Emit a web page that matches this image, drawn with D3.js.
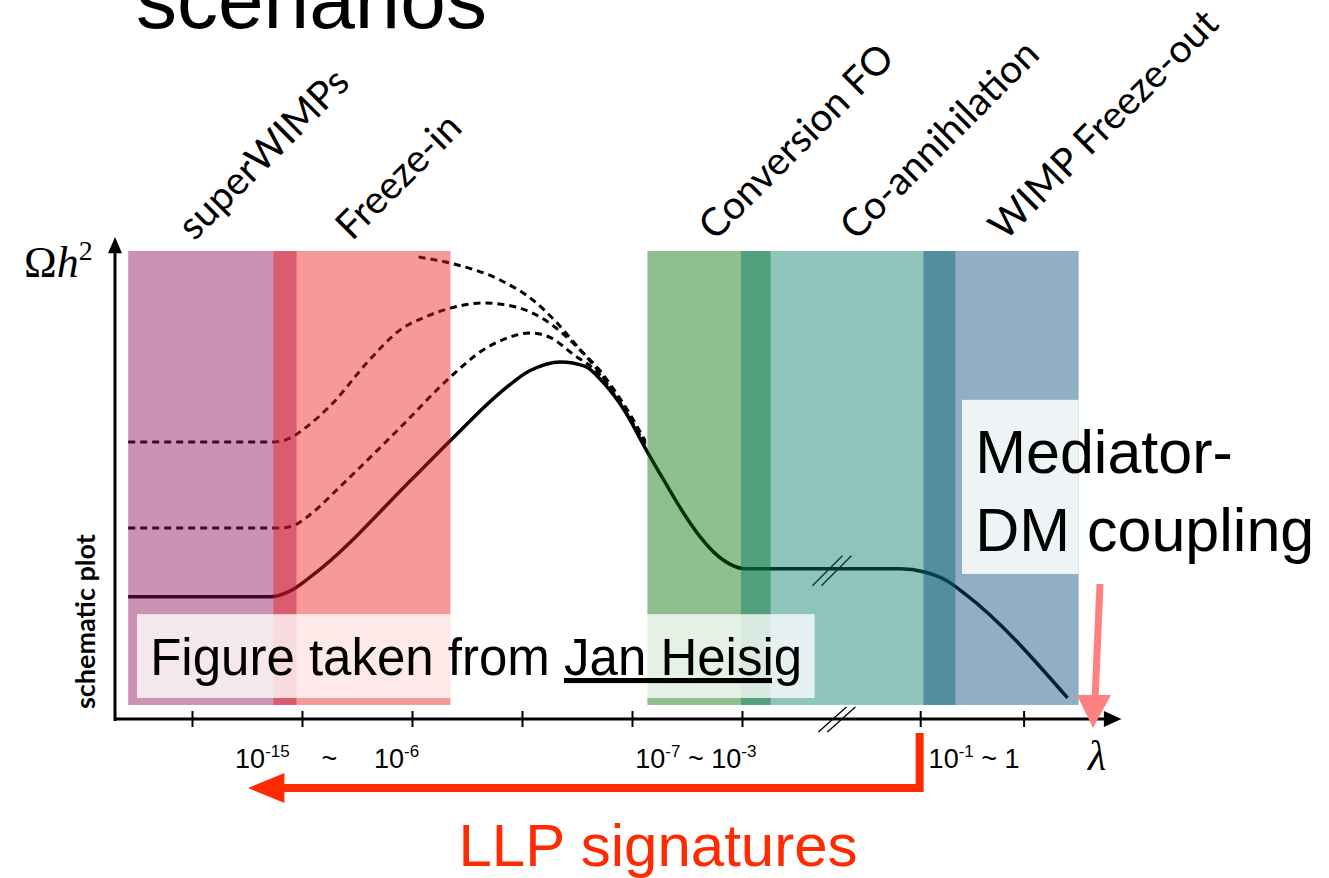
<!DOCTYPE html>
<html><head><meta charset="utf-8">
<script src="https://cdn.jsdelivr.net/npm/d3@7"></script>
<style>body{margin:0;background:#fff}svg{display:block}</style>
</head><body>
<svg id="c" width="1329" height="878"></svg>
<script>
// ---------- data (schematic) ----------
const bandNames = ["superWIMPs", "Freeze-in", "Conversion FO", "Co-annihilation", "WIMP Freeze-out"];
const bandFrom  = [0.42, 1.74, 5.14, 5.99, 7.65];
const bandTo    = [1.95, 3.35, 6.26, 7.94, 9.06];
const bandLow = 0.3, bandHigh = 10;

const tickValues = [1, 2, 3, 4, 5, 6, 7.62, 8.56];
const breakAt = 6.84;

const tickLabelParts = [
  [["10", 0], ["-15", 1]],
  [["~", 0]],
  [["10", 0], ["-6", 1]],
  [["10", 0], ["-7", 1], [" ~ ", 0], ["10", 0], ["-3", 1]],
  [["10", 0], ["-1", 1], [" ~ 1", 0]]
];
const tickLabelAt = [1.64, 2.25, 2.86, 5.58, 8.11];

const solidCurve = [[0.42,2.61],[1.71,2.61],[1.88,2.72],[2.1,3.08],[3.01,5.15],[3.37,6.0],
  [3.8,6.97],[4.07,7.44],[4.35,7.63],[4.57,7.54],[4.75,7.16],[4.94,6.56],[5.12,5.79],[5.3,5.06],
  [5.48,4.36],[5.62,3.89],[5.75,3.55],[5.89,3.31],[6.03,3.21],[6.44,3.21],[7.44,3.21],[7.66,3.14],
  [7.85,2.97],[8.03,2.67],[8.96,0.45]];
const dashedHigh = [[0.42,5.92],[1.75,5.92],[1.89,6.0],[2.03,6.22],[2.28,6.75],[2.59,7.61],[2.89,8.31],
  [3.14,8.61],[3.35,8.78],[3.65,8.89],[3.95,8.8],[4.25,8.46],[4.5,7.95],[4.71,7.39],[4.85,6.94],
  [4.98,6.47],[5.12,5.9]];
const dashedLow = [[0.42,4.08],[1.8,4.08],[1.94,4.15],[2.07,4.36],[2.37,5.02],[2.89,6.22],[3.35,7.31],
  [3.65,7.89],[3.89,8.16],[4.07,8.25],[4.25,8.16],[4.46,7.8],[4.71,7.35],[4.85,6.9],[4.98,6.43],[5.12,5.86]];
const dashedTop = [[3.06,9.87],[3.35,9.74],[3.8,9.38],[4.1,8.95],[4.32,8.46],[4.53,7.89],[4.71,7.44],
  [4.85,6.99],[4.98,6.52],[5.12,5.94]];

// ---------- styles / layout ----------
const bandFill = ["rgb(144,11,87)", "rgb(233,31,27)", "rgb(7,113,0)", "rgb(7,124,109)", "rgb(9,76,124)"];
const labelShift = [-18, -10, 6, 8, 4]; // px nudges of rotated labels
const bandOpacity = 0.45;
const red = "#ff2a00", salmon = "#ff8080";
const gill = "'Lato', 'Open Sans', sans-serif";
const helv = "'Liberation Sans', Arial, sans-serif";

// ---------- scales ----------
const svg = d3.select("#c");
const x = d3.scaleLinear().domain([0, 10]).range([82, 1182]);
const y = d3.scaleLinear().domain([0, 10]).range([719, 251]);

// title (cut off at top, as in the original slide)
svg.append("text").attr("x", 136).attr("y", 28)
  .attr("font-family", helv).attr("font-size", 82).attr("font-weight", 300)
  .attr("fill", "#000").text("scenarios");

// curves (drawn under translucent bands)
const line = d3.line().x(d => x(d[0])).y(d => y(d[1])).curve(d3.curveMonotoneX);
const gCurves = svg.append("g");
[dashedHigh, dashedLow, dashedTop].forEach(s => {
  gCurves.append("path").attr("d", line(s)).attr("fill", "none")
    .attr("stroke", "#000").attr("stroke-width", 3).attr("stroke-dasharray", "7,5");
});
gCurves.append("path").attr("d", line(solidCurve)).attr("fill", "none")
  .attr("stroke", "#000").attr("stroke-width", 3.5);

// break marks on the curve
const breakV = 3.21;
[0, 9].forEach(off => {
  gCurves.append("line")
    .attr("x1", x(breakAt) - 22 + off).attr("y1", y(breakV) + 17)
    .attr("x2", x(breakAt) + 8 + off).attr("y2", y(breakV) - 13)
    .attr("stroke", "#000").attr("stroke-width", 1.3);
});

// bands
svg.append("g").selectAll("rect").data(bandNames).join("rect")
  .attr("x", (d, i) => x(bandFrom[i]))
  .attr("width", (d, i) => x(bandTo[i]) - x(bandFrom[i]))
  .attr("y", y(bandHigh)).attr("height", y(bandLow) - y(bandHigh))
  .attr("fill", (d, i) => bandFill[i]).attr("fill-opacity", bandOpacity);

// band labels rotated
svg.append("g").selectAll("text").data(bandNames).join("text")
  .attr("transform", (d, i) => `translate(${x((bandFrom[i] + bandTo[i]) / 2) + labelShift[i]},${y(10.2)}) rotate(-45)`)
  .attr("font-family", gill).attr("font-size", 39).attr("fill", "#000")
  .text(d => d);

// white boxes
svg.append("rect").attr("x", x(0.5)).attr("y", y(2.24))
  .attr("width", x(6.66) - x(0.5)).attr("height", y(0.45) - y(2.24))
  .attr("fill", "#fff").attr("fill-opacity", 0.78);
svg.append("rect").attr("x", x(8.0)).attr("y", y(6.82))
  .attr("width", x(9.06) - x(8.0)).attr("height", y(3.1) - y(6.82))
  .attr("fill", "#fff").attr("fill-opacity", 0.85);

// figure credit
const cred = svg.append("text").attr("x", x(0.62)).attr("y", y(0.94))
  .attr("font-family", helv).attr("font-size", 51).attr("font-weight", 300).attr("fill", "#000");
cred.append("tspan").text("Figure taken from ");
cred.append("tspan").attr("text-decoration", "underline").text("Jan Heisig");

// mediator text
const med = svg.append("text").attr("font-family", helv).attr("font-size", 61).attr("font-weight", 300).attr("fill", "#000");
med.append("tspan").attr("x", x(8.12)).attr("y", y(5.25)).text("Mediator-");
med.append("tspan").attr("x", x(8.12)).attr("y", y(3.6)).text("DM coupling");

// axes
const gAx = svg.append("g");
gAx.append("line").attr("x1", x(0.3)).attr("x2", x(9.3)).attr("y1", y(0)).attr("y2", y(0))
  .attr("stroke", "#000").attr("stroke-width", 3);
gAx.append("path").attr("d", `M${x(9.45)},${y(0)} L${x(9.29)},${y(0) - 8} L${x(9.29)},${y(0) + 8} Z`).attr("fill", "#000");
gAx.append("line").attr("x1", x(0.3)).attr("x2", x(0.3)).attr("y1", y(0) + 2).attr("y2", y(10.15))
  .attr("stroke", "#000").attr("stroke-width", 3);
gAx.append("path").attr("d", `M${x(0.3)},${y(10.3)} L${x(0.3) - 7},${y(9.95)} L${x(0.3) + 7},${y(9.95)} Z`).attr("fill", "#000");

const axis = d3.axisBottom(x).tickValues(tickValues).tickFormat("").tickSize(8);
const gT = svg.append("g").attr("transform", `translate(0,${y(0)})`).call(axis);
gT.select(".domain").remove();
gT.selectAll(".tick line").attr("y1", -8).attr("y2", 8).attr("stroke", "#000").attr("stroke-width", 2);

// axis break
[0, 9].forEach(off => {
  svg.append("line")
    .attr("x1", x(breakAt) - 16 + off).attr("y1", y(0) + 13)
    .attr("x2", x(breakAt) + 12 + off).attr("y2", y(0) - 12)
    .attr("stroke", "#000").attr("stroke-width", 1.3);
});

// tick labels
tickLabelParts.forEach((parts, i) => {
  const t = svg.append("text").attr("x", x(tickLabelAt[i])).attr("y", 768)
    .attr("text-anchor", "middle").attr("font-family", helv).attr("font-size", 27).attr("fill", "#000");
  let sup = false;
  parts.forEach(([s, isSup]) => {
    const sp = t.append("tspan").text(s).attr("xml:space", "preserve");
    if (isSup && !sup) { sp.attr("font-size", 17).attr("dy", -11); sup = true; }
    else if (!isSup && sup) { sp.attr("dy", 11); sup = false; }
    else if (isSup) sp.attr("font-size", 17);
  });
});

// axis titles
const yl = svg.append("text").attr("x", 24).attr("y", 277)
  .attr("font-family", "'Liberation Serif', 'DejaVu Serif', serif").attr("font-size", 44).attr("fill", "#000");
yl.append("tspan").text("Ω");
yl.append("tspan").attr("font-style", "italic").text("h");
yl.append("tspan").attr("font-size", 28).attr("dy", -17).text("2");

svg.append("text").attr("x", 1097).attr("y", 770).attr("text-anchor", "middle")
  .attr("font-family", "'Liberation Serif', 'DejaVu Serif', serif").attr("font-style", "italic")
  .attr("font-size", 42).attr("fill", "#000").text("λ");

svg.append("text").attr("transform", `translate(95,${y(2.08)}) rotate(-90)`).attr("text-anchor", "middle")
  .attr("font-family", gill).attr("font-weight", 700).attr("font-size", 27).attr("fill", "#000")
  .text("schematic plot");

// LLP arrow
const llpY = 788;
svg.append("path").attr("d", `M${x(7.615)},${733} L${x(7.615)},${llpY} L${x(1.82)},${llpY}`)
  .attr("fill", "none").attr("stroke", red).attr("stroke-width", 8);
svg.append("path").attr("d", `M${x(1.51)},${llpY} L${x(1.84)},${llpY - 15} L${x(1.84)},${llpY + 15} Z`).attr("fill", red);
svg.append("text").attr("x", 658).attr("y", 866).attr("text-anchor", "middle")
  .attr("font-family", helv).attr("font-size", 60).attr("font-weight", 300).attr("fill", red)
  .text("LLP signatures");

// mediator arrow
svg.append("line").attr("x1", 1100).attr("y1", 584).attr("x2", 1095).attr("y2", 700)
  .attr("stroke", salmon).attr("stroke-width", 7);
svg.append("path").attr("d", `M1093,728 L1077,695 L1111,695 Z`).attr("fill", salmon);
</script>
</body></html>
